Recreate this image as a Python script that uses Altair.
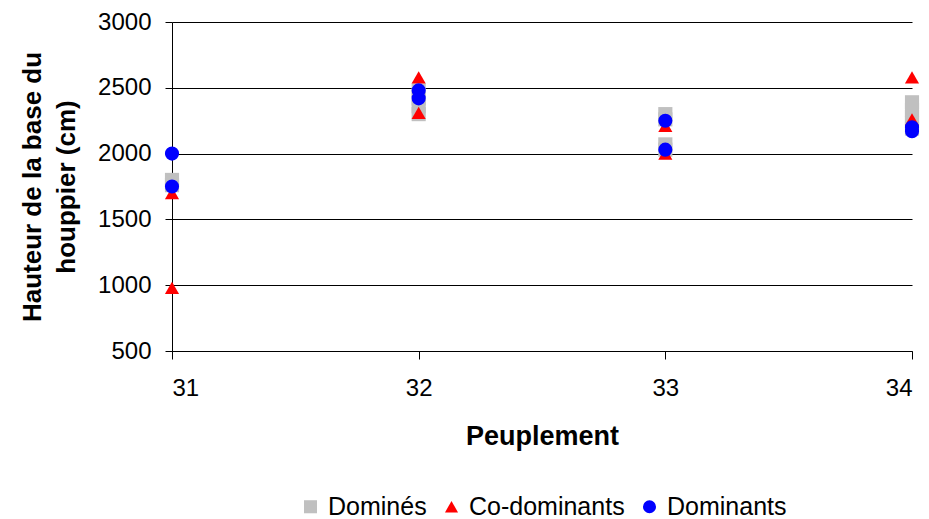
import altair as alt
import pandas as pd

# Dominés (grey squares)
dom_x = [31, 31, 32, 32, 32, 32, 33, 33, 33, 33, 34, 34, 34, 34, 34]
dom_y = [1800, 1760, 2480, 2420, 2360, 2300, 2300, 2260, 2070, 2030, 2390, 2330, 2280, 2230, 2190]
# Co-dominants (red triangles)
cod_x = [31, 31, 32, 32, 33, 33, 34, 34]
cod_y = [1700, 980, 2580, 2310, 2210, 2000, 2580, 2260]
# Dominants (blue circles)
domi_x = [31, 31, 32, 32, 33, 33, 34, 34]
domi_y = [2000, 1750, 2480, 2420, 2250, 2030, 2200, 2170]

series = ["Dominés", "Co-dominants", "Dominants"]
colors = ["#C0C0C0", "#FF0000", "#0000FF"]
shapes = ["square", "triangle-up", "circle"]

rows = []
for name, xs, ys in zip(series, [dom_x, cod_x, domi_x], [dom_y, cod_y, domi_y]):
    for xv, yv in zip(xs, ys):
        rows.append({"Peuplement": xv, "Hauteur": yv, "Série": name})
df = pd.DataFrame(rows)

FONT = "Liberation Sans"

chart = alt.Chart(df).mark_point(filled=True, opacity=1, size=200).encode(
    x=alt.X("Peuplement:Q",
            scale=alt.Scale(domain=[31, 34], nice=False, zero=False),
            axis=alt.Axis(values=[31, 32, 33, 34], format="d", grid=False,
                          title="Peuplement", titleFontSize=27, titleFontWeight="bold",
                          titlePadding=23, labelFontSize=24, labelPadding=17,
                          tickSize=8, tickColor="black", domainColor="black",
                          labelColor="black", titleColor="black")),
    y=alt.Y("Hauteur:Q",
            scale=alt.Scale(domain=[500, 3000], nice=False, zero=False),
            axis=alt.Axis(values=[500, 1000, 1500, 2000, 2500, 3000], format="d", grid=True,
                          gridColor="black", gridOpacity=1, gridWidth=1,
                          title=["Hauteur de la base du", "houppier (cm)"],
                          titleFontSize=26, titleFontWeight="bold", titlePadding=18,
                          titleLineHeight=34,
                          labelFontSize=24, labelPadding=14, tickSize=7,
                          tickColor="black", domainColor="black",
                          labelColor="black", titleColor="black")),
    color=alt.Color("Série:N", scale=alt.Scale(domain=series, range=colors),
                    legend=alt.Legend(orient="none", direction="horizontal", title=None,
                                      legendX=126, legendY=472,
                                      labelFontSize=25, symbolSize=170, labelColor="black",
                                      columnPadding=12, symbolOpacity=1,
                                      labelOffset=5, labelLimit=400)),
    shape=alt.Shape("Série:N", scale=alt.Scale(domain=series, range=shapes)),
    order=alt.Order("ord:Q"),
).transform_calculate(
    ord="datum['Série'] == 'Dominés' ? 0 : (datum['Série'] == 'Co-dominants' ? 1 : 2)"
).properties(
    width=740, height=329,
    autosize=alt.AutoSizeParams(type="none"),
    padding={"left": 172, "top": 22, "right": 17, "bottom": 168},
).configure(font=FONT).configure_view(stroke=None)

chart.save("out.html", embed_options={"renderer": "svg", "actions": False})
